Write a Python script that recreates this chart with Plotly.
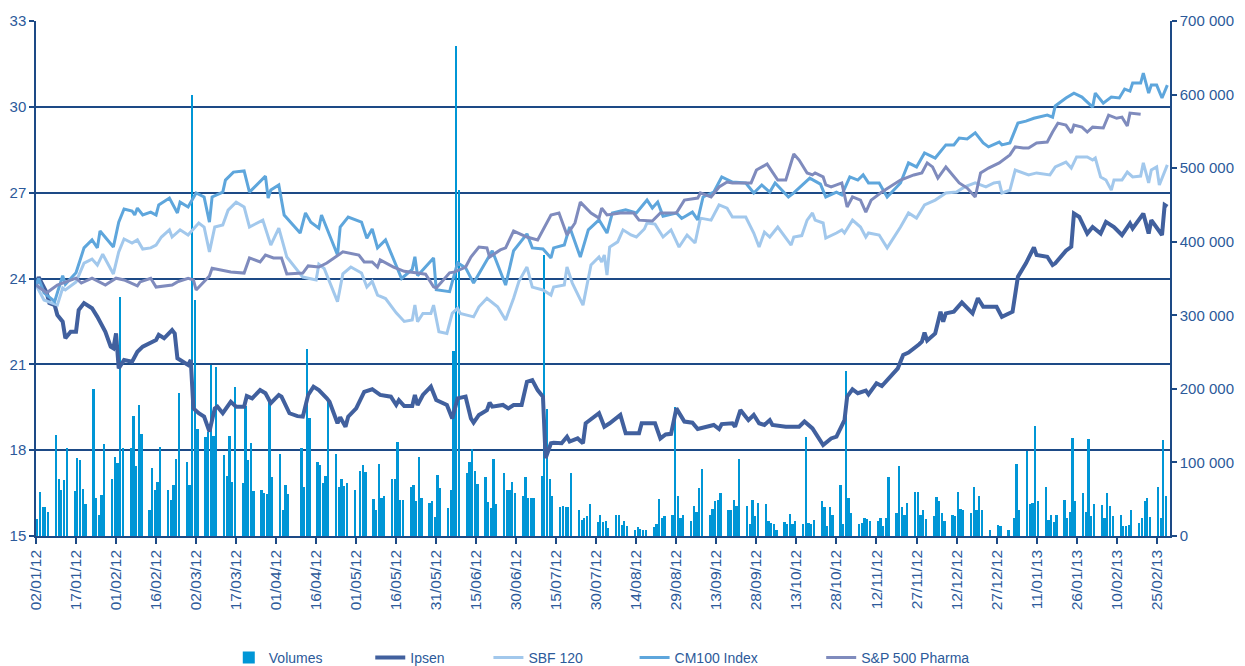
import pandas as pd
import plotly.graph_objects as go

START = pd.Timestamp("2012-01-02")

# ---------------- Volumes (daily, thousands of shares), Mon..Fri per week, None = market closed
volumes_k = [
    23, 60, 40, 40, 33,
    137, 78, 62, 76, 120,
    61, 106, 103, 64, 44,
    200, 52, 28, 56, 125,
    77, 107, 99, 325, 120,
    120, 163, 95, 178, 138,
    35, 93, 63, 74, 121,
    62, 49, 70, 104, 195,
    101, 69, 600, 321, 146,
    134, 141, 233, 136, 230,
    110, 82, 136, 73, 202,
    72, 177, 103, 126, 61,
    63, 59, 57, 183, 80,
    111, 36, 69, 57, None,
    None, 119, 67, 254, 161,
    100, 97, 72, 81, 183,
    111, 67, 77, 68, 72,
    62, None, 89, 96, 87,
    50, 36, 98, 51, 54,
    78, 78, 128, 49, 49,
    66, 69, 48, 107, 51,
    45, 48, 26, 83, 65,
    38, 63, 252, 666, 470,
    86, 100, 118, 88, 71,
    80, 46, 38, 104, 44,
    86, 62, 63, 73, 58,
    55, 80, 52, 52, 52,
    81, 382, 172, 77, 54,
    39, 41, 40, 40, 86,
    35, 22, 24, 27, 43,
    19, 28, 19, 21, 11,
    28, 28, 15, 20, 14,
    8, 12, 9, 8, 8,
    12, 16, 50, 25, 27,
    28, 176, 54, 25, 29,
    20, 41, 33, 65, 91,
    28, 37, 48, 49, 59,
    35, 36, 49, 41, 105,
    41, 16, 49, 27, 45,
    43, 21, 18, 16, 8,
    19, 16, 30, 16, 20,
    16, 135, 18, 16, 22,
    48, 40, 14, 39, 28,
    69, 16, 224, 51, 31,
    16, 18, 24, 23, 21,
    21, 24, 14, 24, 80,
    31, 95, 39, 28, 45,
    60, 60, 29, 35, 23,
    27, 53, 47, 31, 20,
    28, 27, 60, 37, 35,
    31, 67, 35, 55, 35,
    8, None, None, 15, 14,
    8, None, 25, 98, 36,
    115, 44, 45, 149, 48,
    67, 22, 29, 19, 29,
    49, 25, 33, 133, 48,
    59, 33, 132, 27, 43,
    42, 25, 59, 41, 27,
    29, 14, 14, 15, 36,
    18, 24, 47, 51, 26,
    67, 24, 130, 55, None,
]
volume_dates = pd.bdate_range("2012-01-02", "2013-03-01")

# ---------------- Price lines (day offset from 02/01/12, value)
ipsen_day = [0, 1, 4, 5, 7, 8, 10, 11, 13, 15, 16, 18, 21, 23, 26, 28, 29, 30, 31, 33, 36, 38, 40, 43, 45, 46, 48,
             51, 52, 53, 55, 57, 58, 59, 61, 63, 65, 67, 68, 70, 73, 75, 78, 79, 81, 84, 86, 88, 91, 92, 95, 98,
             100, 102, 104, 106, 109, 110, 113, 114, 116, 117, 120, 123, 126, 129, 133, 135, 136, 138, 141, 142,
             143, 145, 148, 150, 154, 156, 158, 161, 163, 164, 166, 169, 170, 171, 175, 177, 179, 182, 184, 186,
             188, 190, 191, 193, 194, 197, 199, 200, 203, 205, 206, 211, 213, 215, 219, 221, 226, 227, 232, 234,
             236, 238, 240, 243, 246, 248, 254, 256, 257, 261, 262, 264, 267, 269, 271, 273, 275, 276, 281, 286,
             288, 291, 295, 298, 300, 303, 304, 306, 308, 311, 312, 315, 317, 320, 323, 325, 327, 331, 332, 333,
             334, 337, 339, 340, 341, 344, 347, 351, 353, 355, 360, 362, 366, 368, 371, 374, 375, 379, 381, 382,
             386, 388, 389, 391, 394, 396, 399, 401, 404, 407, 410, 411, 415, 417, 418, 422, 423, 424]
ipsen = [23.77, 24.05, 23.5, 23.14, 23.07, 22.72, 22.49, 21.91, 22.14, 22.14, 22.9, 23.14, 22.96, 22.66, 22.14,
         21.62, 21.56, 22.08, 20.86, 21.15, 21.09, 21.44, 21.62, 21.74, 21.85, 22.03, 21.91,
         22.2, 22.08, 21.21, 21.09, 20.98, 21.15, 19.46, 19.29, 19.17, 18.65, 19.46, 19.52, 19.29, 19.69, 19.52,
         19.52, 19.89, 19.81, 20.1, 19.99, 19.64, 19.93, 19.87, 19.29, 19.19,
         19.17, 19.93, 20.22, 20.1, 19.81, 19.69, 18.94, 19.15, 18.82, 19.17, 19.46, 20.04, 20.13, 19.93, 19.87,
         19.58, 19.75, 19.54, 19.54, 19.93,
         19.58, 19.93, 20.22, 19.75, 19.58, 19.11, 19.81, 19.87, 19.11, 18.96, 19.23, 19.4, 19.66, 19.52, 19.58,
         19.46, 19.58, 19.58, 20.39, 20.45,
         20.1, 19.87, 17.72, 18.24, 18.26, 18.24, 18.47, 18.3, 18.41, 18.24, 18.94, 19.29, 18.82, 18.94, 19.23,
         18.59, 18.59, 18.94, 18.94, 18.41,
         18.55, 18.57, 19.46, 19.0, 18.96, 18.74, 18.88, 18.74, 18.91, 18.94, 18.82, 19.4, 19.05, 19.23, 18.94,
         18.88, 19.05, 18.88, 18.82, 18.82,
         19.0, 18.76, 18.18, 18.41, 18.47, 19.05, 19.87, 20.13, 19.99, 20.08, 19.95, 20.34, 20.24, 20.57, 20.86,
         21.33, 21.41, 21.7, 21.79, 22.11,
         21.83, 22.08, 22.84, 22.49, 22.78, 22.84, 23.16, 22.78, 23.31, 23.01, 23.01, 22.66, 22.84, 24.06, 24.53,
         25.09, 24.82, 24.76, 24.47, 24.53,
         24.97, 25.11, 26.27, 26.15, 25.57, 25.8, 25.57, 25.98, 25.8, 25.52, 25.93, 25.75, 26.27, 25.57, 26.04,
         25.52, 26.57, 26.51]

sbf_day = [0, 3, 8, 10, 11, 15, 18, 21, 23, 25, 29, 31, 33, 36, 38, 40, 43, 45, 47, 50, 51, 54, 57, 61, 63, 65,
           67, 70, 72, 75, 78, 80, 85, 88, 91, 94, 100, 102, 105, 106, 108, 113, 115, 118, 122, 124, 126, 128,
           131, 135, 138, 141, 142, 143, 145, 148, 149, 151, 154, 156, 158, 159, 164, 166, 169, 173, 176, 179,
           181, 184, 186, 190, 193, 194, 198, 199, 201, 205, 208, 211, 212, 213, 214, 215, 218, 220, 223, 225,
           228, 229, 232, 235, 238, 241, 244, 247, 249, 253, 254, 256, 259, 261, 266, 269, 271, 273, 275, 278,
           283, 284, 287, 289, 291, 292, 295, 296, 300, 302, 303, 306, 309, 311, 312, 316, 319, 324, 327, 330,
           333, 337, 341, 345, 348, 352, 356, 359, 361, 362, 365, 367, 372, 375, 380, 382, 386, 388, 390, 394,
           396, 397, 399, 401, 403, 404, 407, 409, 411, 414, 415, 417, 418, 420, 421, 424]
sbf120 = [23.77, 23.25, 23.07, 23.67, 23.6, 23.88, 24.54, 24.68, 24.47, 24.85, 24.16, 24.93, 25.38, 25.24, 25.35,
          25.03, 25.07, 25.17, 25.45, 25.7, 25.45, 25.7, 25.52, 25.94, 25.8, 24.93,
          25.8, 25.87, 26.39, 26.67, 26.5, 25.8, 26.04, 25.17, 25.76, 24.75, 24.05, 24.0, 23.95, 24.5, 24.35,
          23.19, 24.16, 24.4, 24.19, 23.7, 23.9, 23.42,
          23.3, 22.8, 22.5, 22.55, 23.07, 22.49, 22.78, 22.78, 23.07, 22.14, 22.08, 22.78, 22.96, 22.78, 22.66,
          23.01, 23.31, 23.01, 22.55, 23.31,
          23.9, 24.4, 23.7, 23.6, 23.42, 23.7, 23.77, 24.4, 23.84, 23.07, 24.47, 24.75, 24.58, 24.82, 24.12,
          25.1, 25.28, 25.7, 25.52, 25.45,
          25.73, 25.94, 25.9, 25.45, 25.7, 25.1, 25.52, 25.24, 26.11, 26.04, 26.22, 26.57, 26.46, 26.15, 26.15,
          25.59, 25.1, 25.62, 25.45, 25.8,
          25.17, 25.45, 25.5, 26.04, 26.29, 26.04, 25.94, 25.41, 25.59, 25.7, 25.59, 26.04, 25.8, 25.45, 25.59,
          25.52, 25.07, 25.8, 26.29, 26.11,
          26.57, 26.74, 26.99, 27.02, 27.2, 27.34, 27.2, 27.34, 27.37, 26.99, 27.09, 27.79, 27.62, 27.69, 27.62,
          27.9, 28.07, 27.86, 28.25, 28.25,
          28.14, 28.21, 27.55, 27.44, 27.09, 27.44, 27.44, 27.72, 27.55, 27.58, 28.04, 27.34, 27.79, 27.9, 27.27,
          27.97]

cm100_day = [0, 1, 3, 7, 8, 10, 11, 15, 18, 21, 23, 24, 29, 31, 33, 36, 37, 38, 40, 43, 45, 46, 50, 53, 54, 57,
             60, 63, 65, 66, 70, 71, 74, 78, 80, 86, 87, 88, 91, 93, 99, 101, 103, 106, 107, 113, 114, 117, 122,
             124, 126, 128, 131, 137, 141, 142, 143, 149, 150, 155, 158, 161, 164, 166, 171, 176, 179, 184, 186,
             190, 193, 194, 198, 200, 204, 207, 211, 214, 216, 221, 225, 229, 231, 233, 235, 240, 242, 246, 248,
             250, 254, 257, 261, 266, 269, 272, 275, 277, 282, 284, 290, 294, 296, 300, 302, 305, 308, 310, 312,
             316, 319, 324, 327, 330, 333, 337, 341, 344, 346, 349, 352, 355, 357, 361, 362, 365, 368, 371, 374,
             379, 381, 382, 386, 389, 392, 396, 397, 400, 403, 406, 408, 410, 411, 414, 415, 417, 418, 420, 422,
             424]
cm100 = [23.77, 24.0, 23.5, 23.2, 23.5, 24.1, 23.8, 24.2, 25.07, 25.35, 25.07, 25.66, 25.1, 25.97, 26.43, 26.36,
         26.22, 26.46, 26.22, 26.32, 26.22, 26.57, 26.81, 26.29, 26.67, 26.5,
         26.99, 26.85, 25.97, 26.85, 27.02, 27.44, 27.72, 27.76, 27.02, 27.58, 26.81, 27.09, 27.27, 26.22, 25.59,
         26.29, 25.97, 25.76, 26.22, 24.82, 25.8, 26.15, 25.97,
         25.41, 25.73, 25.07, 25.35, 24.0, 24.32, 24.76, 24.1, 24.72, 23.61, 23.54, 24.55, 24.37, 23.84, 24.17,
         24.97, 23.77, 24.97, 25.56, 25.07,
         25.03, 24.72, 25.07, 25.17, 25.8, 24.75, 25.7, 26.05, 25.59, 26.29, 26.4, 26.29, 26.74, 26.46, 26.67,
         26.18, 26.29, 26.1, 26.32, 26.05,
         26.85, 27.02, 27.55, 27.37, 27.34, 26.99, 27.27, 27.02, 27.34, 26.85, 26.99, 27.51, 27.3, 26.85, 27.02,
         26.92, 27.55, 27.44, 27.62, 27.34,
         27.34, 26.85, 27.34, 28.04, 27.9, 28.39, 28.21, 28.67, 28.67, 28.91, 28.88, 29.09, 28.74, 28.6, 28.77,
         28.67, 28.74, 29.43, 29.5, 29.6,
         29.71, 29.64, 30.03, 30.31, 30.48, 30.34, 29.99, 30.48, 30.13, 30.34, 30.31, 30.62, 30.55, 30.83,
         30.83, 31.18, 30.48, 30.76, 30.76, 30.31,
         30.76]

sp_day = [0, 4, 8, 11, 15, 17, 21, 26, 30, 33, 38, 39, 43, 45, 51, 53, 57, 59, 60, 65, 66, 73, 78, 80, 84, 86,
          89, 92, 94, 100, 102, 106, 109, 115, 121, 123, 126, 128, 129, 134, 138, 143, 146, 149, 150, 152, 155,
          157, 161, 163, 166, 169, 170, 174, 176, 179, 184, 188, 190, 193, 196, 199, 202, 204, 208, 211, 212,
          214, 219, 224, 226, 231, 234, 240, 243, 248, 249, 253, 256, 259, 261, 268, 270, 274, 278, 281, 284,
          286, 289, 291, 292, 295, 296, 298, 302, 304, 306, 309, 311, 313, 317, 324, 329, 332, 334, 336, 338,
          341, 346, 349, 352, 354, 357, 361, 365, 367, 370, 372, 375, 379, 381, 383, 386, 388, 389, 392, 394,
          396, 400, 402, 405, 407, 409, 410, 414]
sp500_pharma = [23.77, 23.5, 23.77, 23.88, 24.01, 23.84, 24.01, 23.77, 24.01, 23.95, 23.74, 23.88, 24.01, 23.7,
                23.77, 23.88, 24.01, 23.95, 23.6, 24.09, 24.36, 24.23, 24.19, 24.72, 24.58, 24.82,
                24.72, 24.72, 24.16, 24.19, 24.44, 24.4, 24.54, 24.93, 24.82, 24.58, 24.58, 24.4, 24.65, 24.4,
                24.25, 24.19, 24.15, 23.71, 23.67, 23.88, 24.2,
                24.23, 24.4, 24.75, 25.1, 25.07, 24.75, 25.0, 25.07, 25.66, 25.45, 25.35, 25.7, 26.22, 26.29,
                25.52, 25.94, 26.67, 26.29, 26.11, 26.46,
                26.22, 26.29, 26.29, 26.04, 26.01, 26.29, 26.29, 26.74, 26.81, 26.99, 26.85, 27.2, 27.37, 27.34,
                27.34, 27.79, 28.0, 27.44, 27.44, 28.35,
                28.14, 27.69, 27.62, 27.69, 27.55, 27.27, 27.2, 27.34, 26.5, 26.85, 26.74, 26.32, 26.74, 27.02,
                27.44, 27.62, 27.69, 28.04, 27.9, 27.51,
                27.9, 27.34, 27.16, 26.85, 27.69, 27.86, 28.04, 28.32, 28.6, 28.56, 28.56, 28.74, 28.77, 29.12,
                29.43, 29.36, 29.09, 29.36, 29.29, 29.12,
                29.29, 29.26, 29.71, 29.6, 29.64, 29.33, 29.78, 29.74]

price_ticks = [15, 18, 21, 24, 27, 30, 33]
volume_ticks = [0, 100000, 200000, 300000, 400000, 500000, 600000, 700000]
date_tick_step_days = 15
date_tick_count = 29

# ---------------- styling
NAVY = "#1d4a86"
TXT = "#2c5a9a"
FONT = "Liberation Sans, Arial, sans-serif"
C_VOL = "#0096d6"
C_IPSEN = "#41609e"
C_SBF = "#a2c8ec"
C_CM = "#5ea6dc"
C_SP = "#7f8bbd"
NB = "\u00a0"

# page has an 8px body margin: figure is 8px smaller and margins shifted accordingly
FIG_W, FIG_H = 1237, 658


def to_dates(days):
    return [START + pd.Timedelta(days=d) for d in days]


assert len(volumes_k) == len(volume_dates)
vol_x = [d + pd.Timedelta(hours=12) for d in volume_dates]
vol_y = [None if v is None else v * 1000 for v in volumes_k]

fig = go.Figure()
fig.add_trace(go.Bar(x=vol_x, y=vol_y, name="Volumes" + NB * 11, marker=dict(color=C_VOL, line=dict(width=0)),
                     width=0.85 * 86400000, yaxis="y"))
fig.add_trace(go.Scatter(x=to_dates(ipsen_day), y=ipsen, name="Ipsen" + NB * 10, mode="lines",
                         line=dict(color=C_IPSEN, width=4), yaxis="y2"))
fig.add_trace(go.Scatter(x=to_dates(sbf_day), y=sbf120, name="SBF 120" + NB * 12, mode="lines",
                         line=dict(color=C_SBF, width=3), yaxis="y2"))
fig.add_trace(go.Scatter(x=to_dates(cm100_day), y=cm100, name="CM100 Index" + NB * 15, mode="lines",
                         line=dict(color=C_CM, width=3), yaxis="y2"))
fig.add_trace(go.Scatter(x=to_dates(sp_day), y=sp500_pharma, name="S&P 500 Pharma", mode="lines",
                         line=dict(color=C_SP, width=3), yaxis="y2"))

tick_dates = [START + pd.Timedelta(days=date_tick_step_days * i) for i in range(date_tick_count)]

fig.update_layout(
    width=FIG_W, height=FIG_H,
    margin=dict(l=28, r=75, t=13, b=130, autoexpand=False),
    paper_bgcolor="white", plot_bgcolor="white",
    font=dict(family=FONT, color=TXT, size=15),
    bargap=0,
    showlegend=True,
    legend=dict(orientation="h", x=0.170, xanchor="left", yref="container", y=8 / FIG_H, yanchor="middle",
                font=dict(size=14, color=TXT), traceorder="normal"),
    xaxis=dict(type="date", range=[START, START + pd.Timedelta(days=425)],
               tickvals=tick_dates, ticktext=[d.strftime("%d/%m/%y") for d in tick_dates],
               tickangle=-90, ticks="outside", ticklen=6, tickcolor=NAVY, tickwidth=1.5,
               showline=True, linecolor=NAVY, linewidth=1.5, showgrid=False, zeroline=False,
               tickfont=dict(size=15.5, color=TXT), automargin=False),
    yaxis=dict(side="right", range=[0, 700000], tickvals=volume_ticks,
               ticktext=[f"{v:,}".replace(",", " ") for v in volume_ticks],
               ticks="outside", ticklen=5, tickcolor=NAVY, tickwidth=1.5,
               showline=True, linecolor=NAVY, linewidth=1.5, showgrid=False, zeroline=False,
               tickfont=dict(size=15, color=TXT), automargin=False),
    yaxis2=dict(side="left", overlaying="y", anchor="x", range=[15, 33], tickvals=price_ticks,
                ticks="outside", ticklen=5, tickcolor=NAVY, tickwidth=1.5,
                showline=True, linecolor=NAVY, linewidth=1.5, showgrid=True, gridcolor=NAVY, gridwidth=1.5,
                zeroline=False, tickfont=dict(size=15, color=TXT), automargin=False),
)

fig.write_html("out.html")
